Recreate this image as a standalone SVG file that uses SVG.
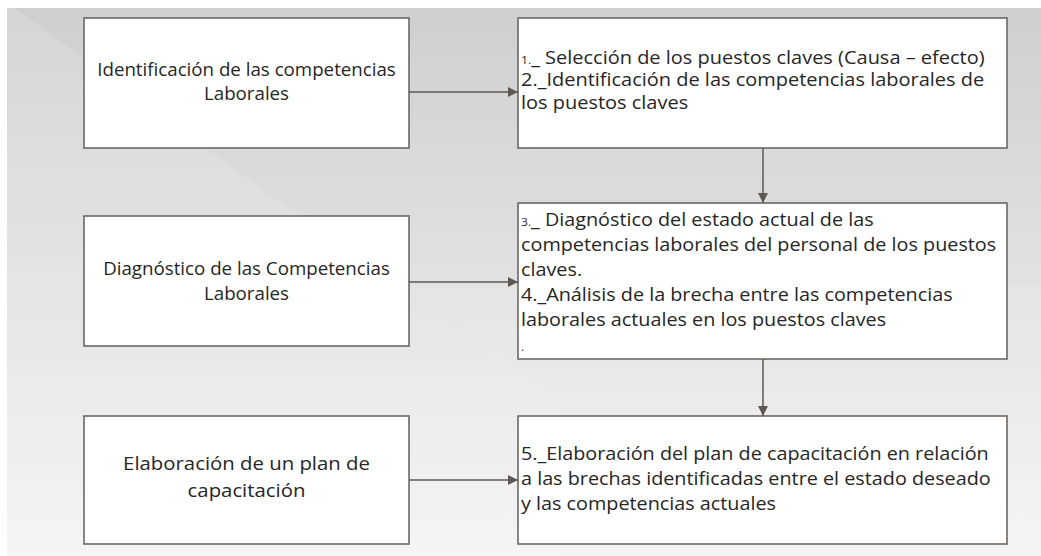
<svg xmlns="http://www.w3.org/2000/svg" width="1041" height="556" viewBox="0 0 1041 556">
<defs>
<linearGradient id="bg" x1="0" y1="0" x2="0" y2="1">
<stop offset="0" stop-color="#cfcfcf"/>
<stop offset="1" stop-color="#f4f4f4"/>
</linearGradient>
<marker id="ah" viewBox="0 0 10 10" refX="10" refY="5" markerWidth="10" markerHeight="10" markerUnits="userSpaceOnUse" orient="auto">
<path d="M0,0 L10,5 L0,10 z" fill="#5f5753"/>
</marker>
<style>
.box{fill:#fff;stroke:#6e6763;stroke-width:1.6}
.t{font-family:"Open Sans","Noto Sans",sans-serif;fill:#262626}
.l{font-size:17.5px;text-anchor:middle}
.l3{font-size:18.5px;text-anchor:middle}
.r{font-size:18px}
.s{font-size:11px}
.conn{stroke:#615955;stroke-width:1.5;fill:none}
</style>
</defs>
<rect x="0" y="0" width="1041" height="556" fill="#fff"/>
<rect x="7" y="8" width="1034" height="548" fill="url(#bg)"/>
<polygon points="7,8 15,8 290,210 7,210" fill="#ffffff" opacity="0.13"/>
<polygon points="7,210 300,210 560,400 560,556 7,556" fill="#ffffff" opacity="0.1"/>
<polygon points="400,285 1041,285 1041,556 760,556" fill="#ffffff" opacity="0.08"/>
<g id="n1"><rect class="box" x="84" y="18" width="325" height="130"/>
<g class="t l" transform="translate(246.5,0) scale(1.07,1)">
<text x="0" y="76">Identificación de las competencias</text>
<text x="0" y="100">Laborales</text></g></g>
<g id="n2"><rect class="box" x="518" y="18" width="489" height="130"/>
<g class="t r" transform="translate(521,0) scale(1.11,1)">
<text x="0" y="64"><tspan class="s">1.</tspan>_ Selección de los puestos claves (Causa – efecto)</text>
<text x="0" y="86.5">2._Identificación de las competencias laborales de</text>
<text x="0" y="109">los puestos claves</text></g></g>
<g id="n3"><rect class="box" x="84" y="216" width="325" height="130"/>
<g class="t l" transform="translate(246.5,0) scale(1.07,1)">
<text x="0" y="275">Diagnóstico de las Competencias</text>
<text x="0" y="300">Laborales</text></g></g>
<g id="n4"><rect class="box" x="518" y="203" width="489" height="156"/>
<g class="t r" transform="translate(521,0) scale(1.1,1)">
<text x="0" y="226"><tspan class="s">3.</tspan>_ Diagnóstico del estado actual de las</text>
<text x="0" y="251">competencias laborales del personal de los puestos</text>
<text x="0" y="276">claves.</text>
<text x="0" y="301">4._Análisis de la brecha entre las competencias</text>
<text x="0" y="326">laborales actuales en los puestos claves</text>
<text class="s" x="0" y="351">.</text></g></g>
<g id="n5"><rect class="box" x="84" y="416" width="325" height="128"/>
<g class="t l3" transform="translate(246.5,0) scale(1.1,1)">
<text x="0" y="470">Elaboración de un plan de</text>
<text x="0" y="497">capacitación</text></g></g>
<g id="n6"><rect class="box" x="518" y="416" width="489" height="128"/>
<g class="t r" transform="translate(521,0) scale(1.1,1)">
<text x="0" y="460">5._Elaboración del plan de capacitación en relación</text>
<text x="0" y="485">a las brechas identificadas entre el estado deseado</text>
<text x="0" y="510">y las competencias actuales</text></g></g>
<g id="connectors">
<line class="conn" x1="409" y1="92" x2="518" y2="92" marker-end="url(#ah)"/>
<line class="conn" x1="409" y1="282" x2="518" y2="282" marker-end="url(#ah)"/>
<line class="conn" x1="409" y1="480" x2="518" y2="480" marker-end="url(#ah)"/>
<line class="conn" x1="763" y1="148" x2="763" y2="203" marker-end="url(#ah)"/>
<line class="conn" x1="763" y1="359" x2="763" y2="416" marker-end="url(#ah)"/>
</g>
</svg>
